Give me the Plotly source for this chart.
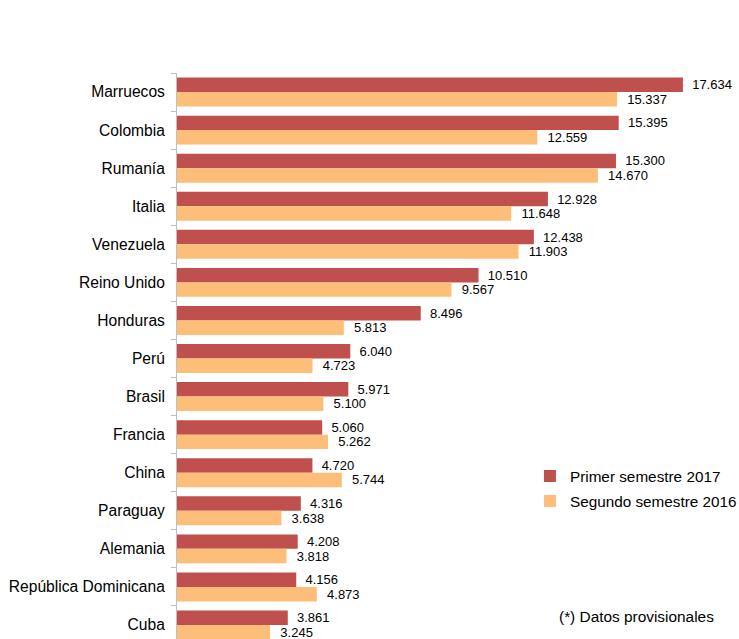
import plotly.graph_objects as go

categories = ["Marruecos", "Colombia", "Rumanía", "Italia", "Venezuela", "Reino Unido",
              "Honduras", "Perú", "Brasil", "Francia", "China", "Paraguay", "Alemania",
              "República Dominicana", "Cuba"]
primer_2017 = [17634, 15395, 15300, 12928, 12438, 10510, 8496, 6040, 5971, 5060,
               4720, 4316, 4208, 4156, 3861]
segundo_2016 = [15337, 12559, 14670, 11648, 11903, 9567, 5813, 4723, 5100, 5262,
                5744, 3638, 3818, 4873, 3245]
series_names = ["Primer semestre 2017", "Segundo semestre 2016"]
colors = ["#C0504D", "#FCBE78"]
label_pads = ["\u00a0\u2009", "\u00a0\u00a0"]
note = "(*) Datos provisionales"

FONT = "Arial, Liberation Sans, sans-serif"


def fmt(v, pad):
    return pad + f"{v:,}".replace(",", ".")


fig = go.Figure()
for i, (name, vals) in enumerate(zip(series_names, [primer_2017, segundo_2016])):
    fig.add_trace(go.Bar(
        y=categories, x=vals, name=name, orientation="h",
        marker=dict(color=colors[i], line=dict(width=0)),
        text=[fmt(v, label_pads[i]) for v in vals], textposition="outside",
        textfont=dict(size=13, color="#000000", family=FONT),
        constraintext="none", cliponaxis=False,
        legendgroup=f"g{i}", hoverinfo="x+y",
    ))

fig.update_layout(
    width=739, height=639,
    margin=dict(l=177, r=0, t=73, b=0, autoexpand=False),
    paper_bgcolor="white", plot_bgcolor="white",
    barmode="group", bargap=0.24, bargroupgap=0,
    font=dict(family=FONT, size=15.4, color="#000000"),
    xaxis=dict(range=[0, 19588], visible=False, showgrid=False, zeroline=False),
    yaxis=dict(
        categoryorder="array", categoryarray=categories,
        range=[14.368, -0.5],
        showline=True, linecolor="#BFBFBF", linewidth=1,
        ticks="outside", ticklen=5, tickcolor="#BFBFBF", tickson="boundaries",
        ticklabelstandoff=8,
        tickfont=dict(size=15.6, color="#000000", family=FONT),
        showgrid=False, zeroline=False,
    ),
    legend=dict(
        x=0.628, xanchor="left", y=0.317, yanchor="top",
        traceorder="grouped", tracegroupgap=2,
        font=dict(size=15.3, color="#000000", family=FONT),
        bgcolor="rgba(0,0,0,0)",
    ),
    showlegend=True,
)

fig.add_annotation(
    text=note, xref="paper", yref="paper", x=0.676, y=0.0389,
    xanchor="left", yanchor="middle", showarrow=False,
    font=dict(size=15.4, color="#000000", family=FONT),
)

fig.write_html("out.html")
